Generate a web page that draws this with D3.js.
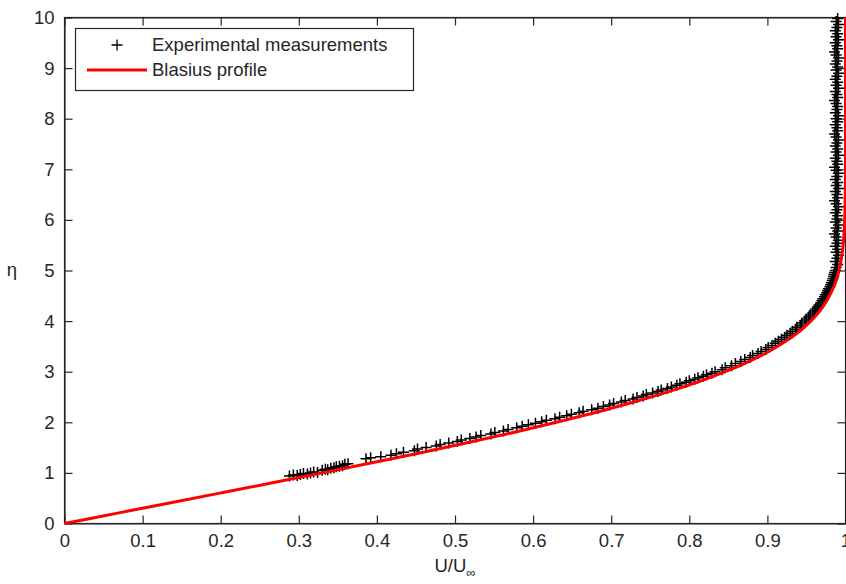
<!DOCTYPE html>
<html>
<head>
<meta charset="utf-8">
<script src="https://cdn.jsdelivr.net/npm/d3@7"></script>
<style>
html,body{margin:0;padding:0;background:#fff;}
svg{display:block;}
text{font-family:"Liberation Sans",Arial,Helvetica,sans-serif;fill:#262626;}
</style>
</head>
<body>
<svg id="chart" width="846" height="584"></svg>
<script>
// ---- data ----
const xTicks = [0,0.1,0.2,0.3,0.4,0.5,0.6,0.7,0.8,0.9,1];
const xTickLabels = ["0","0.1","0.2","0.3","0.4","0.5","0.6","0.7","0.8","0.9","1"];
const yTicks = [0,1,2,3,4,5,6,7,8,9,10];
const yTickLabels = ["0","1","2","3","4","5","6","7","8","9","10"];

// Blasius profile (eta, U/Uinf)
const blasiusEta = [0,0.2,0.4,0.6,0.8,1.0,1.2,1.4,1.6,1.8,2.0,2.2,2.4,2.6,2.8,3.0,3.2,3.4,3.6,3.8,4.0,4.2,4.4,4.6,4.8,5.0,5.2,5.4,5.6,5.8,6.0,6.4,6.8,7.2,7.6,8.0,9.0,10.0];
const blasiusU   = [0,0.0664,0.1328,0.1989,0.2647,0.3298,0.3938,0.4563,0.5168,0.5748,0.6298,0.6813,0.7290,0.7725,0.8115,0.8461,0.8761,0.9018,0.9233,0.9411,0.9555,0.9670,0.9759,0.9827,0.9878,0.9916,0.9943,0.9962,0.9975,0.9984,0.9990,0.9996,0.9999,1.0,1.0,1.0,1.0,1.0];

// Experimental measurements (eta, U/Uinf)
const expEta = [
0.94,0.96,0.95,0.97,0.99,0.98,1.00,1.02,1.01,1.05,1.07,1.06,1.09,1.10,1.12,1.13,1.14,1.17,1.18,
1.28,1.30,1.32,1.35,1.38,1.41,1.44,1.47,1.50,1.53,1.56,1.59,1.62,1.65,1.68,1.71,1.74,1.77,1.80,1.83,1.86,1.89,1.92,1.95,1.98,
2.01,2.04,2.07,2.10,2.13,2.16,2.19,2.22,2.25,2.28,2.31,2.34,2.37,2.40,2.43,2.46,2.49,2.52,2.55,2.58,2.61,2.64,2.67,2.70,2.73,2.76,2.79,2.82,2.85,2.88,2.91,2.94,2.97,3.00,
3.04,3.08,3.12,3.16,3.20,3.24,3.28,3.32,3.36,3.40,3.44,3.48,3.52,3.56,3.60,3.64,3.68,3.72,3.76,3.80,3.84,3.88,3.92,3.96,
4.00,4.04,4.08,4.12,4.16,4.20,4.24,4.28,4.32,4.36,4.40,4.44,4.48,4.52,4.56,4.60,4.64,4.68,4.72,4.76,4.80,4.84,4.88,4.92,4.96,5.00,
5.06,5.12,5.18,5.24,5.30,5.36,5.42,5.48,5.54,5.60,5.66,5.72,5.78,5.84,5.90,5.96,6.02,6.08,6.14,6.20,6.26,6.32,6.38,6.44,6.50,6.56,6.62,6.68,6.74,6.80,6.86,6.92,6.98,
7.04,7.10,7.16,7.22,7.28,7.34,7.40,7.46,7.52,7.58,7.64,7.70,7.76,7.82,7.88,7.94,8.00,8.06,8.12,8.18,8.24,8.30,8.36,8.42,8.48,8.54,8.60,8.66,8.72,8.78,8.84,8.90,8.96,
9.02,9.08,9.14,9.20,9.26,9.32,9.38,9.44,9.50,9.56,9.62,9.68,9.74,9.80,9.86,9.92,9.98
];
const expU = [
0.288,0.293,0.298,0.302,0.306,0.311,0.315,0.319,0.324,0.330,0.334,0.337,0.341,0.345,0.348,0.352,0.356,0.359,0.363,
0.386,0.392,0.405,0.418,0.425,0.434,0.448,0.452,0.463,0.476,0.481,0.492,0.503,0.508,0.519,0.527,0.533,0.546,0.551,0.562,0.568,0.579,0.586,0.594,0.603,
0.611,0.617,0.628,0.634,0.643,0.649,0.659,0.664,0.675,0.683,0.690,0.698,0.703,0.713,0.718,0.728,0.733,0.741,0.745,0.753,0.760,0.764,0.772,0.777,0.784,0.788,0.796,0.800,0.807,0.811,0.818,0.822,0.829,0.833,
0.842,0.846,0.854,0.859,0.866,0.871,0.878,0.881,0.888,0.892,0.898,0.901,0.906,0.910,0.914,0.918,0.922,0.925,0.929,0.932,0.936,0.938,0.942,0.944,
0.948,0.950,0.953,0.955,0.958,0.960,0.962,0.964,0.966,0.968,0.970,0.971,0.973,0.974,0.976,0.977,0.978,0.980,0.981,0.982,0.983,0.984,0.985,0.985,0.986,0.987,
0.988,0.990,0.987,0.989,0.991,0.988,0.990,0.987,0.989,0.991,0.988,0.986,0.990,0.988,0.991,0.987,0.989,0.990,0.987,0.989,0.991,0.988,0.986,0.990,0.989,0.987,0.991,0.988,0.990,0.987,0.989,0.991,0.988,
0.986,0.990,0.989,0.987,0.991,0.988,0.990,0.987,0.989,0.991,0.988,0.986,0.990,0.989,0.987,0.990,0.988,0.991,0.987,0.989,0.990,0.988,0.986,0.990,0.989,0.987,0.991,0.988,0.990,0.987,0.989,0.991,0.988,
0.990,0.987,0.989,0.991,0.988,0.986,0.990,0.989,0.987,0.991,0.988,0.990,0.987,0.989,0.991,0.988,0.990
];

const legendLabels = ["Experimental measurements","Blasius profile"];

// ---- layout ----
const W = 846, H = 584;
const plot = {left:64.5, right:845.5, top:17.5, bottom:523.5};
const svg = d3.select("#chart");

const x = d3.scaleLinear().domain([0,1]).range([plot.left, plot.right]);
const y = d3.scaleLinear().domain([0,10]).range([plot.bottom, plot.top]);

const FS = 18.5;
const axisColor = "#262626";

// frame
svg.append("rect")
  .attr("x", plot.left).attr("y", plot.top)
  .attr("width", plot.right-plot.left).attr("height", plot.bottom-plot.top)
  .attr("fill","#fff").attr("stroke", axisColor).attr("stroke-width",1.2);

function styleAxis(g){
  g.select(".domain").attr("stroke", axisColor).attr("stroke-width",1.2);
  g.selectAll(".tick line").attr("stroke", axisColor).attr("stroke-width",1.2);
  g.selectAll(".tick text").attr("fill", axisColor).style("font-size", FS+"px")
   .style("font-family",'"Liberation Sans",Arial,sans-serif');
}

const xFmt = d => xTickLabels[xTicks.indexOf(d)];
const yFmt = d => yTickLabels[yTicks.indexOf(d)];

svg.append("g").attr("transform",`translate(0,${plot.bottom})`)
  .call(d3.axisBottom(x).tickValues(xTicks).tickFormat(xFmt).tickSizeInner(-8).tickSizeOuter(0).tickPadding(10))
  .call(styleAxis);
svg.append("g").attr("transform",`translate(0,${plot.top})`)
  .call(d3.axisTop(x).tickValues(xTicks).tickFormat("").tickSizeInner(-8).tickSizeOuter(0))
  .call(styleAxis);
svg.append("g").attr("transform",`translate(${plot.left},0)`)
  .call(d3.axisLeft(y).tickValues(yTicks).tickFormat(yFmt).tickSizeInner(-8).tickSizeOuter(0).tickPadding(10))
  .call(styleAxis);
svg.append("g").attr("transform",`translate(${plot.right},0)`)
  .call(d3.axisRight(y).tickValues(yTicks).tickFormat("").tickSizeInner(-8).tickSizeOuter(0))
  .call(styleAxis);

// experimental markers
const pts = expEta.map((e,i)=>({eta:e,u:expU[i]}));
const arm = 5.5;
svg.append("g").selectAll("path").data(pts).join("path")
  .attr("d", d => {
    const px = x(d.u), py = y(d.eta);
    return `M${px-arm},${py}H${px+arm}M${px},${py-arm}V${py+arm}`;
  })
  .attr("stroke","#000").attr("stroke-width",1.5).attr("fill","none");

// Blasius line
const bl = blasiusEta.map((e,i)=>({eta:e,u:blasiusU[i]}));
svg.append("path").datum(bl)
  .attr("d", d3.line().x(d=>x(d.u)).y(d=>y(d.eta)).curve(d3.curveMonotoneY))
  .attr("fill","none").attr("stroke","#ff0000").attr("stroke-width",3);

// legend
const lg = svg.append("g");
lg.append("rect").attr("x",75.5).attr("y",28.5).attr("width",338).attr("height",62)
  .attr("fill","#fff").attr("stroke",axisColor).attr("stroke-width",1.2);
lg.append("path").attr("d",`M${117-arm},45H${117+arm}M117,${45-arm}V${45+arm}`)
  .attr("stroke","#000").attr("stroke-width",1.3);
lg.append("line").attr("x1",87).attr("x2",147).attr("y1",70).attr("y2",70)
  .attr("stroke","#ff0000").attr("stroke-width",3);
lg.selectAll("text.lab").data(legendLabels).join("text").attr("class","lab")
  .attr("x",152).attr("y",(d,i)=>45+i*25).attr("dy","0.35em")
  .style("font-size",FS+"px").text(d=>d);

// axis labels
const xl = svg.append("text").attr("x",455).attr("y",572).attr("text-anchor","middle")
  .style("font-size",FS+"px");
xl.append("tspan").text("U/U");
xl.append("tspan").attr("dy",5).style("font-size","13px").text("∞");

svg.append("text").attr("x",12).attr("y",270).attr("dy","0.35em").attr("text-anchor","middle")
  .style("font-size",FS+"px").text("η");
</script>
</body>
</html>
